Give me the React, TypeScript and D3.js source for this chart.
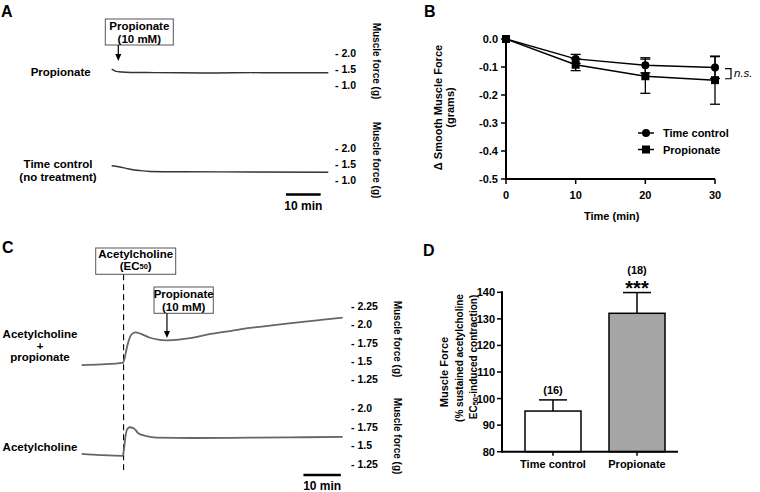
import React from "react";
import * as d3 from "d3";

// ---------- Data ----------
// Panel A traces: [time (min), force (g)]
const traceAPropionate: [number, number][] = [
  [0, 1.48], [0.5, 1.45], [1, 1.42], [2, 1.4], [4, 1.385], [10, 1.375],
  [20, 1.365], [30, 1.36], [40, 1.37], [50, 1.365], [62.4, 1.365],
];
const traceATimeControl: [number, number][] = [
  [0, 1.43], [2, 1.4], [5, 1.33], [8, 1.28], [11, 1.25], [20, 1.24],
  [40, 1.235], [62.4, 1.225],
];
const traceATicks = [2.0, 1.5, 1.0];

// Panel B
const bTimes = [0, 10, 20, 30];
const bTimeControlMean = [0, -0.071, -0.094, -0.102];
const bTimeControlErr = [0, 0.016, 0.027, 0.039];
const bPropionateMean = [0, -0.092, -0.133, -0.147];
const bPropionateErr = [0, 0.021, 0.061, 0.086];
const bYTicks = [0, -0.1, -0.2, -0.3, -0.4, -0.5];

// Panel C traces
const traceCAchProp: [number, number][] = [
  [0, 1.44], [5, 1.45], [11.0, 1.47], [11.5, 1.54], [12.0, 1.66], [12.6, 1.78],
  [13.3, 1.86], [14.3, 1.89], [16, 1.865], [18.3, 1.815], [20.5, 1.79],
  [22.7, 1.78], [26, 1.79], [29, 1.81], [33.8, 1.86], [40, 1.91], [45, 1.95],
  [52, 1.99], [58.5, 2.03], [64, 2.06], [69.8, 2.09],
];
const traceCAch: [number, number][] = [
  [0, 1.385], [5, 1.37], [11.0, 1.36], [11.3, 1.45], [11.7, 1.62], [12.2, 1.72],
  [12.9, 1.745], [14.2, 1.72], [15.1, 1.665], [17.3, 1.625], [20, 1.605],
  [30, 1.6], [45, 1.605], [60, 1.61], [69.8, 1.615],
];
const traceC1Ticks = [2.25, 2.0, 1.75, 1.5, 1.25];
const traceC2Ticks = [2.0, 1.75, 1.5, 1.25];

// Panel D
const dCategories = ["Time control", "Propionate"];
const dMeans = [95.3, 132.1];
const dErr = [4.2, 7.8];
const dN = ["(16)", "(18)"];
const dSig = ["", "***"];
const dYTicks = [80, 90, 100, 110, 120, 130, 140];

const FONT = "'Liberation Sans', Arial, Helvetica, sans-serif";

function fmtTick(v: number) {
  const s = v.toFixed(2);
  if (s.endsWith("0")) return v.toFixed(1);
  return s;
}

function Arrow({ x, y1, y2 }: { x: number; y1: number; y2: number }) {
  return (
    <g>
      <line x1={x} x2={x} y1={y1} y2={y2 - 6} stroke="#000" strokeWidth={1.2} />
      <path d={`M${x - 3},${y2 - 7} L${x + 3},${y2 - 7} L${x},${y2} Z`} fill="#000" />
    </g>
  );
}

export default function App() {
  // ---------- Panel A ----------
  const xA = d3.scaleLinear().domain([0, 62.4]).range([111.7, 328.3]);
  const yA1 = d3.scaleLinear().domain([1.0, 2.0]).range([84.5, 52.5]);
  const yA2 = d3.scaleLinear().domain([1.0, 2.0]).range([179.5, 147.5]);
  const lineA1 = d3.line<[number, number]>().x((d) => xA(d[0])).y((d) => yA1(d[1])).curve(d3.curveMonotoneX);
  const lineA2 = d3.line<[number, number]>().x((d) => xA(d[0])).y((d) => yA2(d[1])).curve(d3.curveMonotoneX);
  const aArrowT = 1.9;
  const aScaleStart = 50.2;

  // ---------- Panel B ----------
  const xB = d3.scaleLinear().domain([0, 30]).range([506, 715]);
  const yB = d3.scaleLinear().domain([-0.5, 0]).range([179, 39]);
  const lineB = d3.line<number>().x((_, i) => xB(bTimes[i])).y((d) => yB(d));

  // ---------- Panel C ----------
  const xC = d3.scaleLinear().domain([0, 69.8]).range([81.7, 342.7]);
  const yC1 = d3.scaleLinear().domain([1.25, 2.25]).range([379, 306]);
  const yC2 = d3.scaleLinear().domain([1.25, 2.0]).range([464, 408.3]);
  const lineC1 = d3.line<[number, number]>().x((d) => xC(d[0])).y((d) => yC1(d[1])).curve(d3.curveMonotoneX);
  const lineC2 = d3.line<[number, number]>().x((d) => xC(d[0])).y((d) => yC2(d[1])).curve(d3.curveMonotoneX);
  const cAchT = 11.2;
  const cPropT = 22.8;
  const cScaleStart = 59.3;

  // ---------- Panel D ----------
  const xD = d3.scaleBand<string>().domain(dCategories).range([504, 686]).paddingInner(1 / 3).paddingOuter(0.25);
  const yD = d3.scaleLinear().domain([80, 140]).range([451.7, 292.3]);
  const bw = xD.bandwidth();

  const bold = { fontFamily: FONT, fontWeight: 700 } as const;

  return (
    <svg
      width={760}
      height={492}
      style={{ position: "absolute", left: 0, top: 0, background: "#fff" }}
      fontFamily={FONT}
    >
      <rect width={760} height={492} fill="#fff" />

      {/* ================= Panel A ================= */}
      <text x={1} y={17} fontSize={16} {...bold}>A</text>
      <rect x={105.3} y={19} width={68} height={26} fill="#fff" stroke="#555" strokeWidth={1} />
      <text x={139.3} y={26} fontSize={11.5} textAnchor="middle" dominantBaseline="central" {...bold}>Propionate</text>
      <text x={139.3} y={39} fontSize={11.5} textAnchor="middle" dominantBaseline="central" {...bold}>(10 mM)</text>
      <Arrow x={xA(aArrowT)} y1={45} y2={61} />

      <path d={lineA1(traceAPropionate) || ""} fill="none" stroke="#333" strokeWidth={1.4} />
      <path d={lineA2(traceATimeControl) || ""} fill="none" stroke="#333" strokeWidth={1.4} />

      <text x={60.7} y={71.7} fontSize={11.5} textAnchor="middle" dominantBaseline="central" {...bold}>Propionate</text>
      <text x={58} y={164} fontSize={11.5} textAnchor="middle" dominantBaseline="central" {...bold}>Time control</text>
      <text x={58} y={177.3} fontSize={11.5} textAnchor="middle" dominantBaseline="central" {...bold}>(no treatment)</text>

      {traceATicks.map((t) => (
        <text key={"a1" + t} x={335} y={yA1(t)} fontSize={10.5} dominantBaseline="central" {...bold}>{"- " + fmtTick(t)}</text>
      ))}
      {traceATicks.map((t) => (
        <text key={"a2" + t} x={335} y={yA2(t)} fontSize={10.5} dominantBaseline="central" {...bold}>{"- " + fmtTick(t)}</text>
      ))}
      <text transform="translate(376,61) rotate(90)" fontSize={10} textAnchor="middle" dominantBaseline="central" {...bold}>Muscle force (g)</text>
      <text transform="translate(376,160) rotate(90)" fontSize={10} textAnchor="middle" dominantBaseline="central" {...bold}>Muscle force (g)</text>

      <line x1={xA(aScaleStart)} x2={xA(aScaleStart + 10)} y1={194.5} y2={194.5} stroke="#000" strokeWidth={2.5} />
      <text x={(xA(aScaleStart) + xA(aScaleStart + 10)) / 2} y={206} fontSize={12} textAnchor="middle" dominantBaseline="central" {...bold}>10 min</text>

      {/* ================= Panel B ================= */}
      <text x={424} y={17} fontSize={16} {...bold}>B</text>
      {/* axes */}
      <line x1={xB(0)} x2={xB(30)} y1={yB(-0.5)} y2={yB(-0.5)} stroke="#000" strokeWidth={2} />
      <line x1={xB(0)} x2={xB(0)} y1={yB(0) - 1} y2={yB(-0.5) + 1} stroke="#000" strokeWidth={2} />
      {bYTicks.map((t) => (
        <g key={"by" + t}>
          <line x1={xB(0) - 5} x2={xB(0)} y1={yB(t)} y2={yB(t)} stroke="#000" strokeWidth={1.5} />
          <text x={xB(0) - 8} y={yB(t)} fontSize={11} textAnchor="end" dominantBaseline="central" {...bold}>{t.toFixed(1)}</text>
        </g>
      ))}
      {bTimes.map((t) => (
        <g key={"bx" + t}>
          <line x1={xB(t)} x2={xB(t)} y1={yB(-0.5)} y2={yB(-0.5) + 5} stroke="#000" strokeWidth={1.5} />
          <text x={xB(t)} y={195} fontSize={11} textAnchor="middle" dominantBaseline="central" {...bold}>{t}</text>
        </g>
      ))}
      <text x={611.7} y={215.7} fontSize={11} textAnchor="middle" dominantBaseline="central" {...bold}>Time (min)</text>
      <text transform="translate(438,107.5) rotate(-90)" fontSize={11} textAnchor="middle" dominantBaseline="central" {...bold}>Δ Smooth Muscle Force</text>
      <text transform="translate(450,107.5) rotate(-90)" fontSize={11} textAnchor="middle" dominantBaseline="central" {...bold}>(grams)</text>

      {/* error bars */}
      {bTimes.map((t, i) => (
        <g key={"be" + t}>
          {bTimeControlErr[i] > 0 && (
            <g stroke="#000" strokeWidth={1.3}>
              <line x1={xB(t)} x2={xB(t)} y1={yB(bTimeControlMean[i] + bTimeControlErr[i])} y2={yB(bTimeControlMean[i] - bTimeControlErr[i])} />
              <line x1={xB(t) - 5} x2={xB(t) + 5} y1={yB(bTimeControlMean[i] + bTimeControlErr[i])} y2={yB(bTimeControlMean[i] + bTimeControlErr[i])} />
              <line x1={xB(t) - 5} x2={xB(t) + 5} y1={yB(bTimeControlMean[i] - bTimeControlErr[i])} y2={yB(bTimeControlMean[i] - bTimeControlErr[i])} />
            </g>
          )}
          {bPropionateErr[i] > 0 && (
            <g stroke="#000" strokeWidth={1.3}>
              <line x1={xB(t)} x2={xB(t)} y1={yB(bPropionateMean[i] + bPropionateErr[i])} y2={yB(bPropionateMean[i] - bPropionateErr[i])} />
              <line x1={xB(t) - 5} x2={xB(t) + 5} y1={yB(bPropionateMean[i] + bPropionateErr[i])} y2={yB(bPropionateMean[i] + bPropionateErr[i])} />
              <line x1={xB(t) - 5} x2={xB(t) + 5} y1={yB(bPropionateMean[i] - bPropionateErr[i])} y2={yB(bPropionateMean[i] - bPropionateErr[i])} />
            </g>
          )}
        </g>
      ))}
      <path d={lineB(bTimeControlMean) || ""} fill="none" stroke="#000" strokeWidth={1.5} />
      <path d={lineB(bPropionateMean) || ""} fill="none" stroke="#000" strokeWidth={1.5} />
      {bTimes.map((t, i) => (
        <circle key={"bc" + t} cx={xB(t)} cy={yB(bTimeControlMean[i])} r={4} fill="#000" />
      ))}
      {bTimes.map((t, i) => (
        <rect key={"bs" + t} x={xB(t) - 4} y={yB(bPropionateMean[i]) - 4} width={8} height={8} fill="#000" />
      ))}

      {/* n.s. bracket */}
      <path
        d={`M${xB(30) + 10},${yB(-0.102) + 1} H${xB(30) + 16} V${yB(-0.142)} H${xB(30) + 10}`}
        fill="none"
        stroke="#000"
        strokeWidth={1.2}
      />
      <text x={734} y={73} fontSize={11.5} fontStyle="italic" fontFamily={FONT} dominantBaseline="central">n.s.</text>

      {/* legend */}
      <line x1={638} x2={654} y1={133} y2={133} stroke="#000" strokeWidth={1.5} />
      <circle cx={646} cy={133} r={4} fill="#000" />
      <text x={663} y={133} fontSize={11} dominantBaseline="central" {...bold}>Time control</text>
      <line x1={638} x2={654} y1={149.5} y2={149.5} stroke="#000" strokeWidth={1.5} />
      <rect x={642} y={145.5} width={8} height={8} fill="#000" />
      <text x={663} y={149.5} fontSize={11} dominantBaseline="central" {...bold}>Propionate</text>

      {/* ================= Panel C ================= */}
      <text x={2} y={253} fontSize={16} {...bold}>C</text>
      <line x1={xC(cAchT)} x2={xC(cAchT)} y1={274.3} y2={470} stroke="#000" strokeWidth={1.1} strokeDasharray="6,4" />
      <rect x={95.7} y={248} width={80} height={26.3} fill="#fff" stroke="#555" strokeWidth={1} />
      <text x={135.7} y={254.2} fontSize={11.5} textAnchor="middle" dominantBaseline="central" {...bold}>Acetylcholine</text>
      <text x={135.7} y={265.5} fontSize={11.5} textAnchor="middle" dominantBaseline="central" {...bold}>
        (EC<tspan fontSize={7.5}>50</tspan>)
      </text>
      <rect x={154} y={287} width={59.3} height={26.3} fill="#fff" stroke="#555" strokeWidth={1} />
      <text x={183.7} y={294} fontSize={11.5} textAnchor="middle" dominantBaseline="central" {...bold}>Propionate</text>
      <text x={183.7} y={306.7} fontSize={11.5} textAnchor="middle" dominantBaseline="central" {...bold}>(10 mM)</text>
      <Arrow x={xC(cPropT)} y1={313.3} y2={338} />

      <path d={lineC1(traceCAchProp) || ""} fill="none" stroke="#666" strokeWidth={1.8} />
      <path d={lineC2(traceCAch) || ""} fill="none" stroke="#666" strokeWidth={1.8} />

      <text x={40} y={334} fontSize={11.5} textAnchor="middle" dominantBaseline="central" {...bold}>Acetylcholine</text>
      <text x={40} y={345.5} fontSize={11.5} textAnchor="middle" dominantBaseline="central" {...bold}>+</text>
      <text x={40} y={357} fontSize={11.5} textAnchor="middle" dominantBaseline="central" {...bold}>propionate</text>
      <text x={40} y={446.7} fontSize={11.5} textAnchor="middle" dominantBaseline="central" {...bold}>Acetylcholine</text>

      {traceC1Ticks.map((t) => (
        <text key={"c1" + t} x={351} y={yC1(t)} fontSize={10.5} dominantBaseline="central" {...bold}>{"- " + fmtTick(t)}</text>
      ))}
      {traceC2Ticks.map((t) => (
        <text key={"c2" + t} x={351} y={yC2(t)} fontSize={10.5} dominantBaseline="central" {...bold}>{"- " + fmtTick(t)}</text>
      ))}
      <text transform="translate(397,339) rotate(90)" fontSize={10} textAnchor="middle" dominantBaseline="central" {...bold}>Muscle force (g)</text>
      <text transform="translate(397,436) rotate(90)" fontSize={10} textAnchor="middle" dominantBaseline="central" {...bold}>Muscle force (g)</text>

      <line x1={xC(cScaleStart)} x2={xC(cScaleStart + 10)} y1={475} y2={475} stroke="#000" strokeWidth={2.5} />
      <text x={(xC(cScaleStart) + xC(cScaleStart + 10)) / 2} y={486} fontSize={12} textAnchor="middle" dominantBaseline="central" {...bold}>10 min</text>

      {/* ================= Panel D ================= */}
      <text x={423} y={256} fontSize={16} {...bold}>D</text>
      {dCategories.map((c, i) => {
        const x0 = xD(c) as number;
        const cx = x0 + bw / 2;
        const top = yD(dMeans[i]);
        const errTop = yD(dMeans[i] + dErr[i]);
        return (
          <g key={"d" + c}>
            <rect x={x0} y={top} width={bw} height={yD(80) - top} fill={i === 0 ? "#fff" : "#a6a6a6"} stroke="#000" strokeWidth={1.5} />
            <line x1={cx} x2={cx} y1={top} y2={errTop} stroke="#000" strokeWidth={1.5} />
            <line x1={cx - bw / 4} x2={cx + bw / 4} y1={errTop} y2={errTop} stroke="#000" strokeWidth={1.5} />
            <text x={cx} y={errTop - (dSig[i] ? 23 : 10)} fontSize={11} textAnchor="middle" dominantBaseline="central" {...bold}>{dN[i]}</text>
            {dSig[i] && (
              <text x={cx} y={errTop + 2} fontSize={20} textAnchor="middle" {...bold}>{dSig[i]}</text>
            )}
            <line x1={cx} x2={cx} y1={yD(80)} y2={yD(80) + 4} stroke="#000" strokeWidth={1.5} />
            <text x={cx} y={463.5} fontSize={11} textAnchor="middle" dominantBaseline="central" {...bold}>{c}</text>
          </g>
        );
      })}
      <line x1={502} x2={678} y1={yD(80)} y2={yD(80)} stroke="#000" strokeWidth={2} />
      <line x1={502} x2={502} y1={yD(140) - 1} y2={yD(80) + 1} stroke="#000" strokeWidth={2} />
      {dYTicks.map((t) => (
        <g key={"dy" + t}>
          <line x1={497} x2={502} y1={yD(t)} y2={yD(t)} stroke="#000" strokeWidth={1.5} />
          <text x={495} y={yD(t)} fontSize={11} textAnchor="end" dominantBaseline="central" {...bold}>{t}</text>
        </g>
      ))}
      <text transform="translate(443.5,372) rotate(-90)" fontSize={11} textAnchor="middle" dominantBaseline="central" {...bold}>Muscle Force</text>
      <text transform="translate(459,358) rotate(-90)" fontSize={10} textAnchor="middle" dominantBaseline="central" {...bold}>(% sustained acetylcholine</text>
      <text transform="translate(473,357) rotate(-90)" fontSize={10} textAnchor="middle" dominantBaseline="central" {...bold}>
        EC<tspan fontSize={7.5} dy={2}>50</tspan><tspan dy={-2}>-induced contraction)</tspan>
      </text>
    </svg>
  );
}
